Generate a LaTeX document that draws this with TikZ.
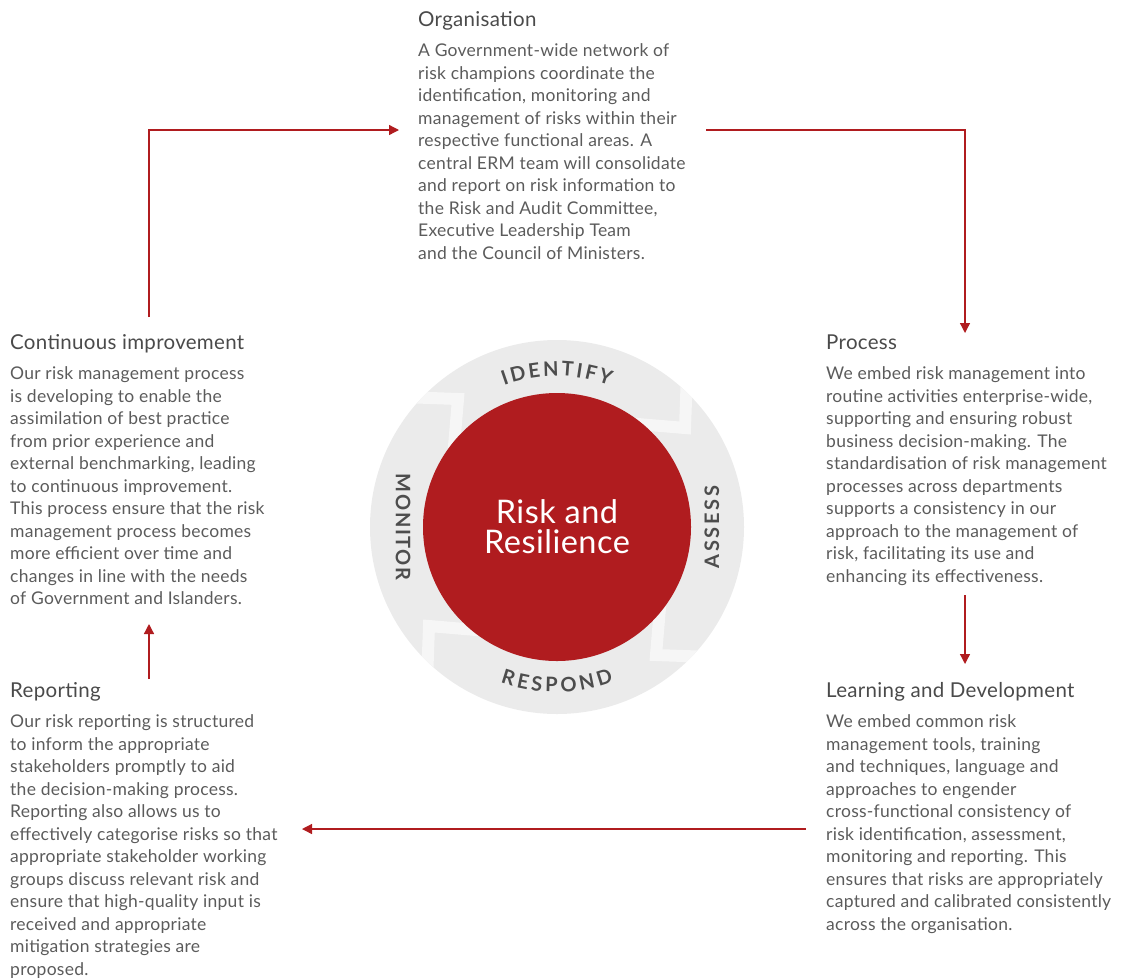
\documentclass[tikz,border=0pt]{standalone}
\usepackage{fontspec}
\setmainfont{Lato}[LetterSpace=1.5]
\newfontfamily\ringfont[LetterSpace=8]{Lato}
\newfontfamily\arcfont{Lato}
\usetikzlibrary{arrows.meta,calc,decorations.text}
\definecolor{riskred}{HTML}{B01C1F}
\definecolor{ringgrey}{HTML}{EBEBEB}
\definecolor{chevwhite}{HTML}{F6F6F6}
\definecolor{bodygrey}{HTML}{5B5B5B}
\definecolor{headgrey}{HTML}{4A4A4A}
\definecolor{ringtext}{HTML}{4D4D4D}
\tikzset{
  headtxt/.style={anchor=base west, inner sep=0pt, text=headgrey,
                  font=\fontsize{20.5}{22}\selectfont},
  bodytxt/.style={anchor=north west, inner sep=0pt, align=left, text=bodygrey,
                  font=\fontsize{17.5}{22.5}\selectfont},
  ringlbl/.style={inner sep=0pt, text=ringtext,
                  font=\ringfont\bfseries\fontsize{20}{20}\selectfont},
  arr/.style={-{Triangle[length=10pt,width=10pt]}, line width=1.3pt, color=riskred}}

\begin{document}
\begin{tikzpicture}[x=1pt,y=-1pt]
  \useasboundingbox (0,0) rectangle (1121,978);
  % the wheel
  \coordinate (hub) at (557,527);
  \fill[ringgrey] (hub) circle[radius=187pt];
  \begin{scope}
    \clip (hub) circle[radius=187pt];
    \foreach \turn in {0,-90,-180,-270}
      \draw[chevwhite, line width=12pt, miter limit=4, rotate around={\turn:(hub)}]
        (375,396) -- (458,399) -- (452,470);
  \end{scope}
  \node[circle, fill=riskred, minimum size=268pt, inner sep=0pt, text=white,
        align=center, font=\fontsize{32.5}{30}\selectfont] (core) at (hub)
    {Risk and\\Resilience};
  \path[decorate, decoration={text along path, text align=center, text color=ringtext,
        text={|\arcfont\bfseries\fontsize{20}{20}\selectfont|{I\kern2.5pt}{D\kern2.5pt}{E\kern2.5pt}{N\kern2.5pt}{T\kern2.5pt}{I\kern2.5pt}{F\kern2.5pt}Y}}]
    ($(hub)+(125:151pt)$) arc[start angle=125, end angle=55, radius=151pt];
  \path[decorate, decoration={text along path, text align=center, text color=ringtext,
        text={|\arcfont\bfseries\fontsize{20}{20}\selectfont|{R\kern3.5pt}{E\kern3.5pt}{S\kern3.5pt}{P\kern3.5pt}{O\kern3.5pt}{N\kern3.5pt}D}}]
    ($(hub)+(235:165pt)$) arc[start angle=235, end angle=305, radius=165pt];
  \node[ringlbl, rotate=90] (assess) at (712,527) {\addfontfeature{LetterSpace=14}ASSESS};
  \node[ringlbl, rotate=-90] (monitor) at (403,527) {MONITOR};
  % the five texts
  \node[headtxt] (orgT) at (418,26) {Organisation};
  \node[bodytxt] (org) at (418,43.5)
    {A Government-wide network of\\risk champions coordinate the\\
     identification, monitoring and\\management of risks within their\\
     respective functional areas. A\\central ERM team will consolidate\\
     and report on risk information to\\the Risk and Audit Committee,\\
     Executive Leadership Team\\and the Council of Ministers.};
  \node[headtxt] (procT) at (826,349) {Process};
  \node[bodytxt] (proc) at (826,366.5)
    {We embed risk management into\\routine activities enterprise-wide,\\
     supporting and ensuring robust\\business decision-making. The\\
     standardisation of risk management\\processes across departments\\
     supports a consistency in our\\approach to the management of\\
     risk, facilitating its use and\\enhancing its effectiveness.};
  \node[headtxt] (learnT) at (826,697) {Learning and Development};
  \node[bodytxt] (learn) at (826,714.5)
    {We embed common risk\\management tools, training\\
     and techniques, language and\\approaches to engender\\
     cross-functional consistency of\\risk identification, assessment,\\
     monitoring and reporting. This\\ensures that risks are appropriately\\
     captured and calibrated consistently\\across the organisation.};
  \node[headtxt] (repT) at (10,697) {Reporting};
  \node[bodytxt] (rep) at (10,714.5)
    {Our risk reporting is structured\\to inform the appropriate\\
     stakeholders promptly to aid\\the decision-making process.\\
     Reporting also allows us to\\effectively categorise risks so that\\
     appropriate stakeholder working\\groups discuss relevant risk and\\
     ensure that high-quality input is\\received and appropriate\\
     mitigation strategies are\\proposed.};
  \node[headtxt] (contT) at (10,349) {Continuous improvement};
  \node[bodytxt] (cont) at (10,366.5)
    {Our risk management process\\is developing to enable the\\
     assimilation of best practice\\from prior experience and\\
     external benchmarking, leading\\to continuous improvement.\\
     This process ensure that the risk\\management process becomes\\
     more efficient over time and\\changes in line with the needs\\
     of Government and Islanders.};
  % the loop
  \coordinate (contUp) at (149,317);
  \coordinate (orgIn) at (399,130);
  \coordinate (orgOut) at (706,130);
  \coordinate (procIn) at (965,333);
  \coordinate (procOut) at (965,595);
  \coordinate (learnIn) at (965,664);
  \coordinate (learnOut) at (806,829);
  \coordinate (repIn) at (302,829);
  \coordinate (repUp) at (149,679);
  \coordinate (contIn) at (149,624);
  \draw[arr] (contUp) |- (orgIn);
  \draw[arr] (orgOut) -| (procIn);
  \draw[arr] (procOut) -- (learnIn);
  \draw[arr] (learnOut) -- (repIn);
  \draw[arr] (repUp) -- (contIn);
\end{tikzpicture}
\end{document}
